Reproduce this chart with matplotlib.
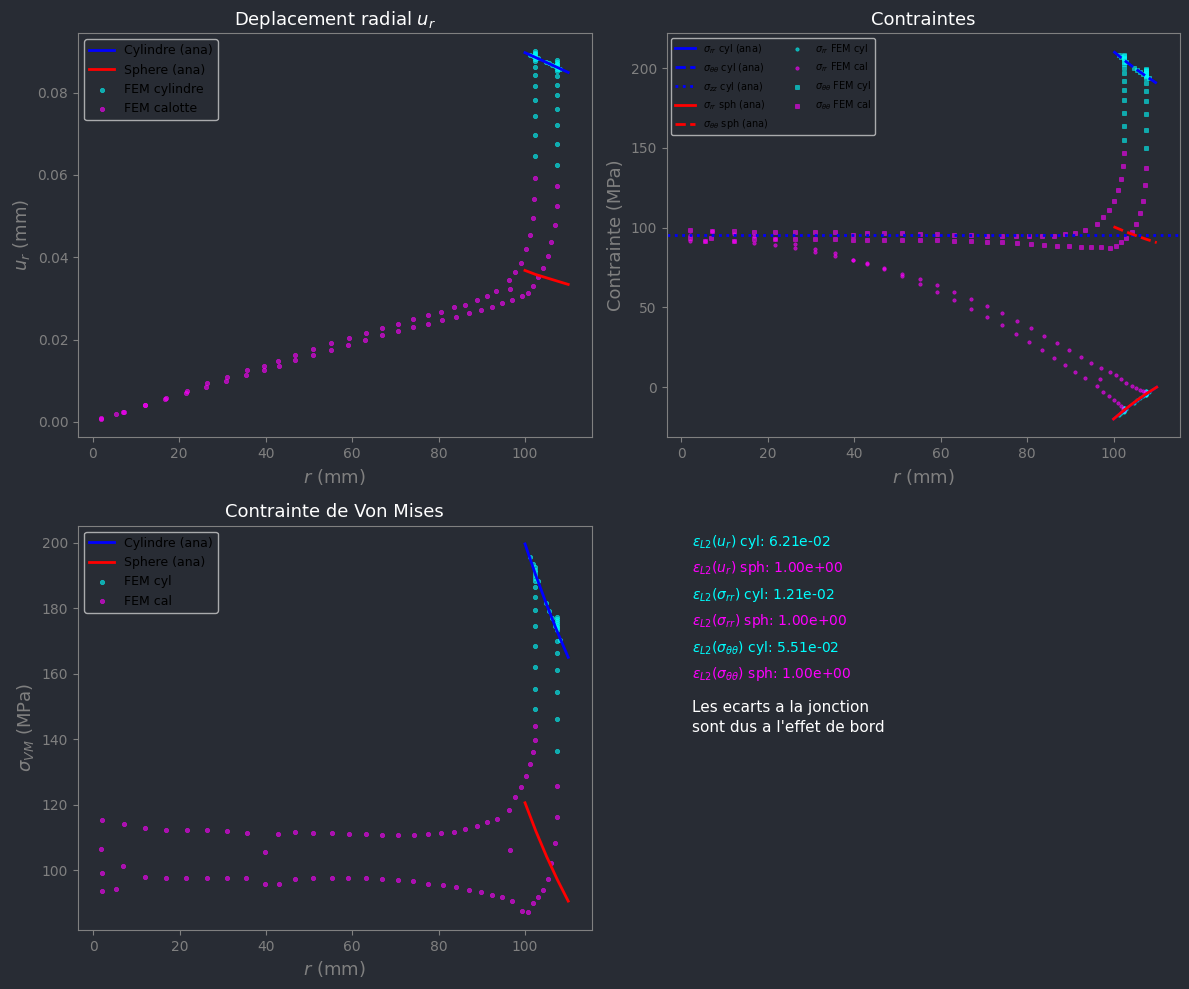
import numpy as np
import matplotlib
matplotlib.use('Agg')
from matplotlib import pyplot as plt

# --- solutions analytiques ---
r_ana = [100, 102.5, 105, 107.5, 110]
u_cyl_ana = [0.0897, 0.0885, 0.0873, 0.0861, 0.0849]
u_sph_ana = [0.0368, 0.0358, 0.0350, 0.0342, 0.0334]
srr_cyl_ana = [-20.0, -14.4, -9.3, -4.5, 0.0]
stt_cyl_ana = [210.5, 204.9, 199.8, 195.0, 190.5]
szz_cyl_ana = 95.2
srr_sph_ana = [-20.0, -14.3, -9.1, -4.3, 0.0]
stt_sph_ana = [100.6, 97.8, 95.2, 92.8, 90.6]
vm_cyl_ana = [199.6, 190.0, 181.1, 172.7, 165.0]
vm_sph_ana = [120.6, 112.0, 104.2, 97.1, 90.6]

# --- noeuds FEM calotte (deux rangees de noeuds) ---
r_a = [2.0, 7.2, 12.1, 16.9, 21.7, 26.4, 31.0, 35.6, 39.7, 42.9, 46.8, 51.0, 55.2,
       59.2, 63.2, 67.0, 70.7, 74.2, 77.5, 80.5, 83.5, 86.2, 88.8, 91.1, 93.4, 96.2,
       97.6, 99.0, 100.2, 101.1, 101.8, 102.2, 102.4]
r_b = [2.0, 5.4, 12.1, 16.8, 21.6, 26.3, 30.9, 35.5, 39.7, 43.0, 46.8, 51.0, 55.2,
       59.1, 63.1, 67.0, 70.7, 74.1, 77.6, 80.9, 84.0, 87.0, 89.8, 92.4, 94.7, 97.0,
       99.2, 100.6, 101.8, 102.9, 104.2, 105.3, 106.1, 106.9, 107.3, 107.5]

u_cal_a = [0.0009, 0.0025, 0.0041, 0.0058, 0.0076, 0.0094, 0.0108, 0.0125, 0.0135, 0.0147,
           0.0162, 0.0176, 0.0191, 0.0203, 0.0215, 0.0227, 0.0239, 0.0249, 0.0259, 0.0268,
           0.0278, 0.0285, 0.0295, 0.0307, 0.0319, 0.0344, 0.0363, 0.0387, 0.0419, 0.0453,
           0.0496, 0.0542, 0.0593]
u_cal_b = [0.0007, 0.0019, 0.0041, 0.0056, 0.0070, 0.0084, 0.0099, 0.0113, 0.0125, 0.0135,
           0.0150, 0.0162, 0.0174, 0.0186, 0.0198, 0.0210, 0.0220, 0.0230, 0.0239, 0.0247,
           0.0256, 0.0264, 0.0271, 0.0278, 0.0288, 0.0297, 0.0305, 0.0314, 0.0331, 0.0351,
           0.0375, 0.0404, 0.0438, 0.0479, 0.0525, 0.0574]
u_cal_extra_r = [7.0, 96.6]
u_cal_extra = [0.0024, 0.0322]

stt_cal_a = [98.7, 97.9, 97.9, 97.5, 97.5, 97.5, 97.5, 97.5, 95.6, 96.9, 96.9, 96.9, 96.2,
             96.2, 95.6, 95.6, 95.0, 95.0, 95.0, 95.0, 95.0, 95.0, 96.2, 96.9, 98.7, 102.5,
             106.9, 111.2, 116.9, 123.7, 130.6, 138.7, 146.9]
stt_cal_b = [93.7, 91.9, 91.9, 93.1, 92.7, 93.1, 93.1, 93.1, 92.5, 92.5, 92.5, 92.5, 92.5,
             92.5, 91.9, 91.9, 91.2, 91.2, 90.6, 90.0, 89.4, 88.7, 88.7, 88.1, 88.1, 88.1,
             87.5, 88.7, 91.2, 93.7, 97.5, 102.5, 109.4, 116.9, 126.9, 137.5]
stt_cal_extra_r = [7.0]
stt_cal_extra = [93.7]

srr_cal_a = [95.6, 97.9, 96.2, 90.6, 89.4, 87.5, 85.0, 82.5, 80.0, 77.5, 73.8, 69.4, 64.4,
             59.4, 54.4, 48.8, 43.8, 38.8, 33.1, 28.1, 23.1, 18.1, 13.8, 9.4, 5.6, 0.6,
             -3.1, -5.6, -8.1, -10.0, -11.9, -13.6, -14.5]
srr_cal_b = [91.9, 91.9, 91.9, 95.0, 92.7, 90.0, 86.9, 83.8, 80.0, 78.1, 74.4, 71.2, 67.5,
             63.8, 59.4, 55.0, 50.6, 46.3, 41.3, 36.9, 31.9, 27.5, 23.1, 18.8, 15.0, 11.9,
             9.4, 7.5, 5.0, 2.5, 0.6, -0.6, -1.9, -2.5, -3.0, -3.4]
srr_cal_extra_r = [96.8]
srr_cal_extra = [5.0]

vm_cal_a = [115.5, 114.2, 113.0, 112.4, 112.4, 112.4, 112.1, 111.5, 105.7, 111.2, 111.8, 111.5,
            111.5, 111.2, 111.2, 110.9, 110.9, 110.9, 111.2, 111.5, 111.8, 112.7, 113.6, 114.8,
            115.8, 118.5, 122.5, 125.5, 128.9, 132.5, 136.2, 139.8, 144.1]
vm_cal_b = [93.8, 94.4, 98.1, 97.8, 97.8, 97.8, 97.8, 97.5, 95.9, 95.9, 97.2, 97.8, 97.8,
            97.5, 97.5, 97.2, 96.9, 96.6, 95.9, 95.6, 95.0, 94.1, 93.5, 92.6, 91.7, 90.5,
            87.7, 87.4, 89.9, 92.0, 94.1, 97.2, 102.1, 108.2, 116.4, 125.8]
vm_cal_extra_r = [1.9, 2.0, 7.0, 96.6]
vm_cal_extra = [106.6, 99.3, 101.4, 106.3]

# --- noeuds FEM cylindre : deux colonnes (r=102.4 et 107.5) + noeuds le long de la solution ---
r_col_in = 102.4
r_col_out = 107.5
r_cyl_line = [101.2, 101.8, 103.0, 104.8, 105.5, 106.2, 106.9, 108.2]

u_cyl_in = [0.0647, 0.0697, 0.0744, 0.0782, 0.0816, 0.0843, 0.0862, 0.0876, 0.0881,
            0.0886, 0.0890, 0.0894, 0.0897, 0.0900]
u_cyl_out = [0.0625, 0.0676, 0.0722, 0.0761, 0.0794, 0.0818, 0.0840, 0.0852, 0.0857,
             0.0862, 0.0866, 0.0870, 0.0875, 0.0880]
u_cyl_line = [0.0891, 0.0888, 0.0883, 0.0874, 0.0871, 0.0867, 0.0864, 0.0858]

stt_cyl_in = [155.0, 163.8, 171.9, 180.0, 186.3, 191.9, 196.9, 200.0, 202.5, 204.0,
              205.5, 206.5, 207.5, 208.5]
stt_cyl_out = [150.0, 161.3, 171.3, 179.4, 185.6, 190.6, 194.0, 194.8, 195.6, 196.4,
               197.2, 198.0, 198.7, 199.4]
stt_cyl_line = [208.0, 206.8, 204.0, 200.4, 199.0, 197.6, 196.2, 193.8]

srr_cyl_in = [-15.4, -15.2, -15.0, -14.8, -14.6, -14.4, -14.2, -14.0, -13.8, -13.6,
              -13.4, -13.2, -13.0, -12.8]
srr_cyl_out = [-5.0, -4.8, -4.6, -4.4, -4.2, -4.0, -3.8, -3.6, -3.4, -3.2, -3.0,
               -2.8, -2.6, -2.4]
srr_cyl_line = [-17.3, -16.0, -13.4, -9.7, -8.3, -6.9, -5.6, -3.2]

vm_cyl_in = [149.3, 155.4, 162.1, 168.5, 174.6, 179.5, 183.4, 186.5, 188.4, 189.3,
             190.2, 191.0, 191.8, 192.5]
vm_cyl_out = [136.5, 146.2, 154.5, 161.2, 166.4, 170.0, 173.2, 173.8, 174.4, 175.0,
              175.6, 176.2, 176.7, 177.2]
vm_cyl_line = [195.7, 193.4, 188.3, 181.7, 179.2, 176.9, 174.6, 170.4]

# erreurs L2
err_labels = [r'$\varepsilon_{L2}(u_r)$ cyl: 6.21e-02',
              r'$\varepsilon_{L2}(u_r)$ sph: 1.00e+00',
              r'$\varepsilon_{L2}(\sigma_{rr})$ cyl: 1.21e-02',
              r'$\varepsilon_{L2}(\sigma_{rr})$ sph: 1.00e+00',
              r'$\varepsilon_{L2}(\sigma_{\theta\theta})$ cyl: 5.51e-02',
              r'$\varepsilon_{L2}(\sigma_{\theta\theta})$ sph: 1.00e+00']
err_colors = ['cyan', 'magenta', 'cyan', 'magenta', 'cyan', 'magenta']

bg = '#282c34'
plt.rcParams['figure.facecolor'] = bg
plt.rcParams['axes.facecolor'] = bg
plt.rcParams['axes.edgecolor'] = 'gray'
plt.rcParams['axes.labelcolor'] = 'gray'
plt.rcParams['xtick.color'] = 'gray'
plt.rcParams['ytick.color'] = 'gray'
plt.rcParams['axes.titlecolor'] = 'white'
plt.rcParams['axes.titlesize'] = 13
plt.rcParams['axes.labelsize'] = 13


def cal_pts(va, vb, er, ev):
    return np.concatenate([r_a, r_b, er]), np.concatenate([va, vb, ev])


def cyl_pts(vin, vout, vline):
    r = np.concatenate([np.full(len(vin), r_col_in), np.full(len(vout), r_col_out), r_cyl_line])
    return r, np.concatenate([vin, vout, vline])


fig, axs = plt.subplots(2, 2, figsize=(11.89, 9.89), dpi=100)
plt.subplots_adjust(left=0.0656, right=0.9925, top=0.9666, bottom=0.0597, wspace=0.146, hspace=0.218)

# deplacement
ax = axs[0, 0]
ax.plot(r_ana, u_cyl_ana, 'b-', lw=2, label='Cylindre (ana)')
ax.plot(r_ana, u_sph_ana, 'r-', lw=2, label='Sphere (ana)')
x, y = cyl_pts(u_cyl_in, u_cyl_out, u_cyl_line)
ax.scatter(x, y, s=10, c='cyan', alpha=0.6, linewidths=0.5, label='FEM cylindre')
x, y = cal_pts(u_cal_a, u_cal_b, u_cal_extra_r, u_cal_extra)
ax.scatter(x, y, s=10, c='magenta', alpha=0.6, linewidths=0.5, label='FEM calotte')
ax.set_title(r'Deplacement radial $u_r$')
ax.set_xlabel(r'$r$ (mm)')
ax.set_ylabel(r'$u_r$ (mm)')
ax.legend(loc='upper left', fontsize=9)

# contraintes
ax = axs[0, 1]
ax.plot(r_ana, srr_cyl_ana, 'b-', lw=2, label=r'$\sigma_{rr}$ cyl (ana)')
ax.plot(r_ana, stt_cyl_ana, 'b--', lw=2, label=r'$\sigma_{\theta\theta}$ cyl (ana)')
ax.axhline(szz_cyl_ana, color='b', ls=':', lw=2, label=r'$\sigma_{zz}$ cyl (ana)')
ax.plot(r_ana, srr_sph_ana, 'r-', lw=2, label=r'$\sigma_{rr}$ sph (ana)')
ax.plot(r_ana, stt_sph_ana, 'r--', lw=2, label=r'$\sigma_{\theta\theta}$ sph (ana)')
x, y = cyl_pts(srr_cyl_in, srr_cyl_out, srr_cyl_line)
ax.scatter(x, y, s=6, c='cyan', alpha=0.6, marker='o', linewidths=0.5, label=r'$\sigma_{rr}$ FEM cyl')
x, y = cal_pts(srr_cal_a, srr_cal_b, srr_cal_extra_r, srr_cal_extra)
ax.scatter(x, y, s=6, c='magenta', alpha=0.6, marker='o', linewidths=0.5, label=r'$\sigma_{rr}$ FEM cal')
x, y = cyl_pts(stt_cyl_in, stt_cyl_out, stt_cyl_line)
ax.scatter(x, y, s=5, c='cyan', alpha=0.6, marker='s', linewidths=0.5, label=r'$\sigma_{\theta\theta}$ FEM cyl')
x, y = cal_pts(stt_cal_a, stt_cal_b, stt_cal_extra_r, stt_cal_extra)
ax.scatter(x, y, s=5, c='magenta', alpha=0.6, marker='s', linewidths=0.5, label=r'$\sigma_{\theta\theta}$ FEM cal')
ax.set_title('Contraintes')
ax.set_xlabel(r'$r$ (mm)')
ax.set_ylabel('Contrainte (MPa)')
ax.legend(loc='upper left', fontsize=7, ncol=2)

# von mises
ax = axs[1, 0]
ax.plot(r_ana, vm_cyl_ana, 'b-', lw=2, label='Cylindre (ana)')
ax.plot(r_ana, vm_sph_ana, 'r-', lw=2, label='Sphere (ana)')
x, y = cyl_pts(vm_cyl_in, vm_cyl_out, vm_cyl_line)
ax.scatter(x, y, s=10, c='cyan', alpha=0.6, linewidths=0.5, label='FEM cyl')
x, y = cal_pts(vm_cal_a, vm_cal_b, vm_cal_extra_r, vm_cal_extra)
ax.scatter(x, y, s=10, c='magenta', alpha=0.6, linewidths=0.5, label='FEM cal')
ax.set_title('Contrainte de Von Mises')
ax.set_xlabel(r'$r$ (mm)')
ax.set_ylabel(r'$\sigma_{VM}$ (MPa)')
ax.legend(loc='upper left', fontsize=9)

# texte
ax = axs[1, 1]
ax.axis('off')
for i, (txt, col) in enumerate(zip(err_labels, err_colors)):
    ax.text(0.05, 0.96 - i*0.0655, txt, color=col, fontsize=10, va='center', transform=ax.transAxes)
ax.text(0.05, 0.525, "Les ecarts a la jonction\nsont dus a l'effet de bord", color='white',
        fontsize=11, va='center', linespacing=1.45, transform=ax.transAxes)

plt.savefig('out.png', facecolor=bg)
